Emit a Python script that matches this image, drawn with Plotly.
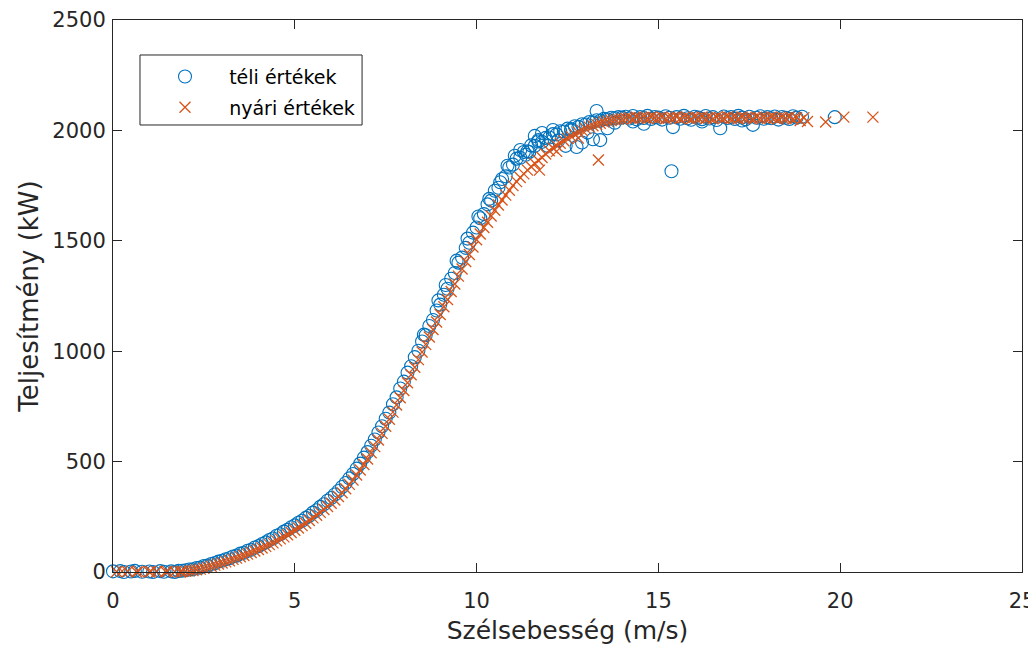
import plotly.graph_objects as go

# ---------------- data ----------------
# Winter ("téli értékek") – main curve 0.0 … 14.0 m/s
winter_speed_main = [
    0.0, 0.1, 0.2, 0.3, 0.4, 0.5, 0.6, 0.7, 0.8, 0.9,
    1.0, 1.1, 1.2, 1.3, 1.4, 1.5, 1.6, 1.7, 1.8, 1.9,
    2.0, 2.1, 2.2, 2.3, 2.4, 2.5, 2.6, 2.7, 2.8, 2.9,
    3.0, 3.1, 3.2, 3.3, 3.4, 3.5, 3.6, 3.7, 3.8, 3.9,
    4.0, 4.1, 4.2, 4.3, 4.4, 4.5, 4.6, 4.7, 4.8, 4.9,
    5.0, 5.1, 5.2, 5.3, 5.4, 5.5, 5.6, 5.7, 5.8, 5.9,
    6.0, 6.1, 6.2, 6.3, 6.4, 6.5, 6.6, 6.7, 6.8, 6.9,
    7.0, 7.1, 7.2, 7.3, 7.4, 7.5, 7.6, 7.7, 7.8, 7.9,
    8.0, 8.1, 8.2, 8.3, 8.4, 8.5, 8.6, 8.7, 8.8, 8.9,
    9.0, 9.1, 9.2, 9.3, 9.4, 9.5, 9.6, 9.7, 9.8, 9.9,
    10.0, 10.1, 10.2, 10.3, 10.4, 10.5, 10.6, 10.7, 10.8, 10.9,
    11.0, 11.1, 11.2, 11.3, 11.4, 11.5, 11.6, 11.7, 11.8, 11.9,
    12.0, 12.1, 12.2, 12.3, 12.4, 12.5, 12.6, 12.7, 12.8, 12.9,
    13.0, 13.1, 13.2, 13.3, 13.4, 13.5, 13.6, 13.7, 13.8, 13.9,
    14.0,
]
winter_power_main = [
    3, -2, 4, 0, -3, 2, 5, -1, 1, -4,
    2, 0, -3, 4, 1, -2, 3, 0, 5, 6,
    8, 11, 12, 18, 20, 27, 29, 36, 40, 47,
    51, 58, 62, 70, 74, 83, 87, 96, 101, 111,
    117, 127, 134, 145, 152, 164, 171, 183, 191, 203,
    211, 223, 232, 245, 255, 269, 280, 295, 307, 323,
    335, 351, 367, 385, 403, 424, 444, 468, 491, 518,
    543, 572, 600, 632, 660, 694, 722, 760, 791, 831,
    862, 903, 932, 973, 1002, 1044, 1072, 1114, 1141, 1184,
    1211, 1256, 1283, 1328, 1354, 1401, 1424, 1468, 1491, 1537,
    1560, 1602, 1621, 1665, 1682, 1727, 1740, 1780, 1792, 1832,
    1845, 1872, 1876, 1902, 1905, 1932, 1930, 1950, 1948, 1966,
    1968, 1983, 1982, 1996, 1995, 2008, 2006, 2019, 2016, 2028,
    2027, 2038, 2037, 2046, 2044, 2052, 2050, 2057, 2055, 2060,
    2058,
]
# Winter – scattered points around the knee of the curve
winter_speed_scatter = [
    8.55, 8.95, 9.15, 9.45, 9.75, 10.05, 10.35, 10.65, 10.85, 11.05,
    11.2, 11.35, 11.45, 11.6, 11.7, 11.8, 11.95, 12.1, 12.25, 12.45,
    12.6, 12.75, 12.9, 13.05, 13.2, 13.3, 13.4, 13.6, 13.8, 14.3, 14.6,
]
winter_power_scatter = [
    1075, 1230, 1300, 1410, 1510, 1610, 1690, 1765, 1840, 1885,
    1911, 1890, 1902, 1975, 1956, 1988, 1930, 2002, 1955, 1930,
    2000, 1925, 1945, 1990, 1960, 2088, 1956, 2010, 2035, 2040, 2030,
]
# Winter – rated-power plateau 14.1 … 18.8 m/s and outliers
winter_speed_plateau = [
    14.1, 14.2, 14.3, 14.4, 14.5, 14.6, 14.7, 14.8, 14.9, 15.0,
    15.1, 15.2, 15.3, 15.4, 15.5, 15.6, 15.7, 15.8, 15.9, 16.0,
    16.1, 16.2, 16.3, 16.4, 16.5, 16.6, 16.7, 16.8, 16.9, 17.0,
    17.1, 17.2, 17.3, 17.4, 17.5, 17.6, 17.7, 17.8, 17.9, 18.0,
    18.1, 18.2, 18.3, 18.4, 18.5, 18.6, 18.7, 18.8,
    15.36, 18.95, 19.85, 16.2, 17.3,
]
winter_power_plateau = [
    2062, 2054, 2065, 2050, 2060, 2056, 2066, 2052, 2061, 2058,
    2049, 2064, 2057, 2015, 2060, 2053, 2066, 2055, 2048, 2062,
    2058, 2051, 2065, 2054, 2060, 2047, 2010, 2063, 2056, 2061,
    2052, 2066, 2058, 2050, 2062, 2025, 2057, 2064, 2053, 2060,
    2055, 2063, 2049, 2061, 2057, 2052, 2064, 2058,
    1815, 2062, 2060, 2040, 2045,
]

# Summer ("nyári értékek") – main curve 0.0 … 14.0 m/s
summer_speed_main = list(winter_speed_main)
summer_power_main = [
    -5, 1, -3, -6, 2, -1, -4, 3, -2, -5,
    0, -3, 2, -4, -1, 3, -2, 1, -3, 2,
    3, 5, 7, 10, 13, 17, 21, 26, 31, 36,
    41, 46, 51, 57, 63, 69, 75, 81, 88, 95,
    102, 109, 116, 124, 132, 141, 150, 159, 169, 179,
    189, 199, 210, 221, 233, 245, 257, 270, 283, 297,
    311, 326, 342, 359, 377, 397, 417, 439, 462, 487,
    512, 540, 568, 598, 628, 660, 692, 724, 756, 789,
    822, 857, 893, 927, 962, 996, 1031, 1064, 1098, 1132,
    1166, 1201, 1234, 1270, 1304, 1340, 1372, 1406, 1438, 1472,
    1505, 1531, 1560, 1584, 1612, 1638, 1662, 1685, 1707, 1729,
    1750, 1768, 1787, 1803, 1820, 1835, 1850, 1864, 1877, 1893,
    1908, 1920, 1931, 1942, 1953, 1964, 1973, 1982, 1991, 2000,
    2008, 2015, 2021, 2027, 2032, 2038, 2042, 2045, 2048, 2051,
    2052,
]
# Summer – extra low-speed points and outliers
summer_speed_scatter = [
    0.05, 0.25, 0.45, 0.65, 0.85, 1.05, 1.25, 1.45, 1.65, 1.85,
    11.73, 13.35, 12.2, 12.8,
]
summer_power_scatter = [
    -2, 4, -7, 0, -3, 3, -6, 1, -4, 0,
    1820, 1866, 1905, 1965,
]
# Summer – plateau 14.1 … 19.0 m/s and the highest wind speeds
summer_speed_plateau = [
    14.1, 14.2, 14.3, 14.4, 14.5, 14.6, 14.7, 14.8, 14.9, 15.0,
    15.1, 15.2, 15.3, 15.4, 15.5, 15.6, 15.7, 15.8, 15.9, 16.0,
    16.1, 16.2, 16.3, 16.4, 16.5, 16.6, 16.7, 16.8, 16.9, 17.0,
    17.1, 17.2, 17.3, 17.4, 17.5, 17.6, 17.7, 17.8, 17.9, 18.0,
    18.1, 18.2, 18.3, 18.4, 18.5, 18.6, 18.7, 18.8, 18.9, 19.0,
    19.1, 19.6, 20.1, 20.9,
]
summer_power_plateau = [
    2055, 2058, 2053, 2060, 2056, 2059, 2054, 2061, 2057, 2055,
    2060, 2053, 2058, 2056, 2062, 2054, 2059, 2057, 2052, 2060,
    2056, 2061, 2054, 2058, 2053, 2060, 2057, 2055, 2062, 2054,
    2058, 2053, 2061, 2056, 2059, 2052, 2060, 2055, 2058, 2054,
    2061, 2056, 2053, 2059, 2055, 2060, 2052, 2057, 2045, 2058,
    2040, 2038, 2060, 2060,
]

x_ticks = [0, 5, 10, 15, 20, 25]
y_ticks = [0, 500, 1000, 1500, 2000, 2500]
legend_names = ["téli értékek", "nyári értékek"]

# ---------------- figure ----------------
BLUE = "#0072BD"
ORANGE = "#D95319"
AX = "#262626"
FONT = "DejaVu Sans, Liberation Sans, Arial, sans-serif"
PAD = "\u00a0\u00a0\u00a0\u00a0"  # spacing between legend symbol and text

winter_x = winter_speed_main + winter_speed_scatter + winter_speed_plateau
winter_y = winter_power_main + winter_power_scatter + winter_power_plateau
summer_x = summer_speed_main + summer_speed_scatter + summer_speed_plateau
summer_y = summer_power_main + summer_power_scatter + summer_power_plateau

fig = go.Figure()
fig.add_trace(go.Scatter(
    x=winter_x, y=winter_y, mode="markers", name=PAD + legend_names[0],
    legendgroup="w", cliponaxis=False,
    marker=dict(symbol="circle-open", size=13, color=BLUE, line=dict(width=1.1, color=BLUE)),
))
fig.add_trace(go.Scatter(
    x=summer_x, y=summer_y, mode="markers", name=PAD + legend_names[1],
    legendgroup="s", cliponaxis=False,
    marker=dict(symbol="x-thin-open", size=11, color=ORANGE, line=dict(width=1.3, color=ORANGE)),
))

# legend frame (MATLAB style box)
fig.add_shape(type="rect", xref="paper", yref="paper",
              x0=0.0297, x1=0.274, y0=0.8098, y1=0.9366,
              line=dict(color=AX, width=1), fillcolor="white", layer="below")

axis_common = dict(
    showline=True, linecolor=AX, linewidth=1, mirror="ticks",
    ticks="inside", ticklen=9, tickwidth=1, tickcolor=AX,
    tickfont=dict(family=FONT, size=21, color=AX),
    showgrid=False, zeroline=False, automargin=False,
)

fig.update_layout(
    width=1036, height=648,
    margin=dict(l=105, r=22, t=12, b=84),
    paper_bgcolor="white", plot_bgcolor="white",
    font=dict(family=FONT, color=AX),
    xaxis=dict(range=[0, 25], tickvals=x_ticks, ticktext=[str(v) for v in x_ticks],
               ticklabelstandoff=10,
               title=dict(text="Szélsebesség (m/s)", font=dict(family=FONT, size=25, color=AX), standoff=9),
               **axis_common),
    yaxis=dict(range=[0, 2500], tickvals=y_ticks, ticktext=[str(v) for v in y_ticks],
               ticklabelstandoff=2,
               title=dict(text="Teljesítmény (kW)", font=dict(family=FONT, size=26, color=AX), standoff=6),
               **axis_common),
    legend=dict(x=0.0572, y=0.9318, xanchor="left", yanchor="top",
                bgcolor="rgba(0,0,0,0)", borderwidth=0,
                font=dict(family=FONT, size=19, color="#000000"),
                tracegroupgap=3, itemsizing="trace"),
    showlegend=True,
)

fig.write_html("out.html")
